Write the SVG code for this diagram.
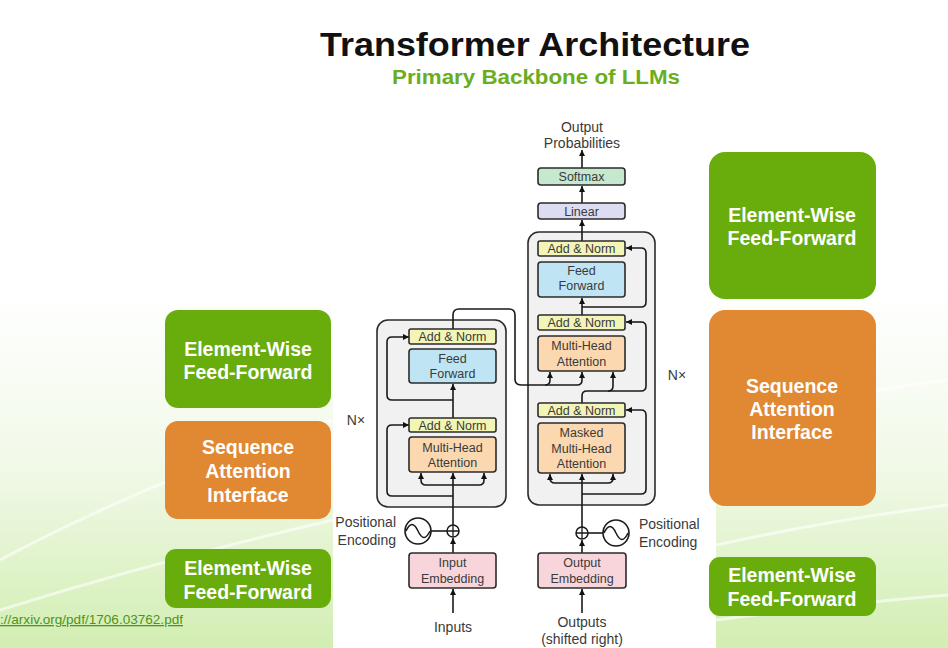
<svg xmlns="http://www.w3.org/2000/svg" width="948" height="648" viewBox="0 0 948 648">
<defs>
<linearGradient id="bg" x1="0" y1="0" x2="0" y2="1">
<stop offset="0" stop-color="#ffffff"/>
<stop offset="0.45" stop-color="#ffffff"/>
<stop offset="0.72" stop-color="#f1f9e8"/>
<stop offset="1" stop-color="#d2eeb2"/>
</linearGradient>
<marker id="ah" viewBox="0 0 6 6" refX="6" refY="3" markerWidth="6" markerHeight="6" markerUnits="userSpaceOnUse" orient="auto">
<path d="M0,0 L6,3 L0,6 z" fill="#111"/>
</marker>
<style>
.side{font-family:"Liberation Sans",Arial,sans-serif;font-weight:bold;font-size:19.5px;fill:#ffffff;text-anchor:middle}
.lbl{font-family:"Liberation Sans",Arial,sans-serif;font-size:12.5px;fill:#3a3a3a;text-anchor:middle}
.cap{font-family:"Liberation Sans",Arial,sans-serif;font-size:14px;fill:#3a3a3a}
.box{stroke:#2b2b2b;stroke-width:1.6}
.an{fill:#f2f5b6}
.ff{fill:#bfe5f5}
.att{fill:#fbd8b0}
.emb{fill:#f8d5da}
.cont{fill:#f1f1f1;stroke:#2b2b2b;stroke-width:1.6}
.wire{fill:none;stroke:#1a1a1a;stroke-width:1.6}
.arr{fill:none;stroke:#1a1a1a;stroke-width:1.6;marker-end:url(#ah)}
.green{fill:#69ad0c}
.orange{fill:#e18832}
</style>
</defs>

<rect width="948" height="648" fill="url(#bg)"/>
<g fill="none" stroke="#ffffff" stroke-opacity="0.6" stroke-width="3">
<path d="M0,560 Q150,480 333,420"/>
<path d="M0,610 Q160,560 333,520"/>
<path d="M716,420 Q830,395 948,380"/>
<path d="M716,545 Q830,520 948,505"/>
<path d="M716,620 Q830,605 948,595"/>
</g>
<rect x="333" y="0" width="383" height="648" fill="#ffffff"/>

<g id="title">
<text x="535" y="56" text-anchor="middle" font-family="'Liberation Sans',Arial,sans-serif" font-weight="bold" font-size="34" fill="#111" textLength="430" lengthAdjust="spacingAndGlyphs">Transformer Architecture</text>
<text x="536" y="84" text-anchor="middle" font-family="'Liberation Sans',Arial,sans-serif" font-weight="bold" font-size="20" fill="#6aae1f" textLength="288" lengthAdjust="spacingAndGlyphs">Primary Backbone of LLMs</text>
</g>

<g id="link">
<text x="0" y="624" font-family="'Liberation Sans',Arial,sans-serif" font-size="13" fill="#4e9420" text-decoration="underline" textLength="183" lengthAdjust="spacingAndGlyphs">://arxiv.org/pdf/1706.03762.pdf</text>
</g>

<!-- side boxes left -->
<g id="left-ff1">
<rect x="165" y="310" width="166" height="98" rx="13" class="green"/>
<text x="248" y="356" class="side">Element-Wise</text>
<text x="248" y="379" class="side">Feed-Forward</text>
</g>
<g id="left-att">
<rect x="165" y="421" width="166" height="98" rx="13" class="orange"/>
<text x="248" y="454" class="side">Sequence</text>
<text x="248" y="478" class="side">Attention</text>
<text x="248" y="502" class="side">Interface</text>
</g>
<g id="left-ff2">
<rect x="165" y="549" width="166" height="59" rx="11" class="green"/>
<text x="248" y="575" class="side">Element-Wise</text>
<text x="248" y="599" class="side">Feed-Forward</text>
</g>

<!-- side boxes right -->
<g id="right-ff1">
<rect x="709" y="152" width="167" height="147" rx="16" class="green"/>
<text x="792" y="222" class="side">Element-Wise</text>
<text x="792" y="245" class="side">Feed-Forward</text>
</g>
<g id="right-att">
<rect x="709" y="310" width="167" height="196" rx="16" class="orange"/>
<text x="792" y="393" class="side">Sequence</text>
<text x="792" y="416" class="side">Attention</text>
<text x="792" y="439" class="side">Interface</text>
</g>
<g id="right-ff2">
<rect x="709" y="557" width="167" height="59" rx="11" class="green"/>
<text x="792" y="582" class="side">Element-Wise</text>
<text x="792" y="606" class="side">Feed-Forward</text>
</g>

<!-- containers -->
<g id="encoder-stack">
<rect x="377" y="320" width="129" height="187" rx="11" class="cont"/>
<text x="356" y="425" class="cap" text-anchor="middle">N×</text>
</g>
<g id="decoder-stack">
<rect x="528" y="232" width="127" height="273" rx="11" class="cont"/>
<text x="677" y="380" class="cap" text-anchor="middle">N×</text>
</g>

<!-- connectors -->
<g id="connectors">
<!-- encoder -->
<path class="arr" d="M453,613 V589"/>
<path class="arr" d="M453,553 V538"/>
<path class="wire" d="M431,531 H447"/>
<path class="arr" d="M453,525 V473"/>
<path class="arr" d="M453,485 H426 Q421,485 421,480 V473"/>
<path class="arr" d="M453,485 H479 Q484,485 484,480 V473"/>
<path class="arr" d="M453,496 H392 Q387,496 387,491 V430 Q387,425 392,425 H409"/>
<path class="arr" d="M453,418 V384"/>
<path class="arr" d="M453,400 H392 Q387,400 387,395 V342 Q387,337 392,337 H409"/>
<path class="arr" d="M453,329 V315 Q453,309 459,309 H509 Q515,309 515,315 V379 Q515,385 521,385 H545 Q550,385 550,380 V372"/>
<path class="arr" d="M545,385 H577 Q582,385 582,380 V372"/>
<!-- decoder -->
<path class="arr" d="M582,613 V589"/>
<path class="arr" d="M582,553 V540"/>
<path class="wire" d="M603,533 H588"/>
<path class="arr" d="M582,527 V474"/>
<path class="arr" d="M582,483 H555 Q550,483 550,478 V474"/>
<path class="arr" d="M582,483 H608 Q613,483 613,478 V474"/>
<path class="arr" d="M582,494 H641 Q646,494 646,489 V415 Q646,410 641,410 H626"/>
<path class="wire" d="M582,403 V396 Q582,391 587,391 H641 Q646,391 646,386 V327 Q646,322 641,322"/>
<path class="arr" d="M641,322 H626"/>
<path class="arr" d="M608,391 Q613,391 613,386 V372"/>
<path class="arr" d="M582,315 V298"/>
<path class="arr" d="M582,307 H641 Q646,307 646,302 V253 Q646,248 641,248 H626"/>
<path class="arr" d="M582,241 V220"/>
<path class="arr" d="M582,203 V186"/>
<path class="arr" d="M582,168 V150"/>
</g>

<!-- encoder nodes -->
<g id="enc-addnorm2">
<rect x="409" y="329" width="87" height="15" rx="2" class="box an"/>
<text x="452.5" y="341" class="lbl">Add &amp; Norm</text>
</g>
<g id="enc-ff">
<rect x="409" y="349" width="87" height="34" rx="3" class="box ff"/>
<text x="452.5" y="362.5" class="lbl">Feed</text>
<text x="452.5" y="377.5" class="lbl">Forward</text>
</g>
<g id="enc-addnorm1">
<rect x="409" y="418" width="87" height="14" rx="2" class="box an"/>
<text x="452.5" y="429.5" class="lbl">Add &amp; Norm</text>
</g>
<g id="enc-mha">
<rect x="409" y="437" width="87" height="35" rx="3" class="box att"/>
<text x="452.5" y="451.5" class="lbl">Multi-Head</text>
<text x="452.5" y="466.5" class="lbl">Attention</text>
</g>
<g id="enc-posenc">
<circle cx="453" cy="531" r="6" fill="#fff" stroke="#1a1a1a" stroke-width="1.5"/>
<path d="M447,531 H459 M453,525 V537" stroke="#1a1a1a" stroke-width="1.3"/>
<circle cx="418" cy="531" r="13" fill="#fff" stroke="#1a1a1a" stroke-width="1.6"/>
<path d="M406,531 Q412,518 418,531 Q424,544 430,531" fill="none" stroke="#1a1a1a" stroke-width="1.5"/>
<text x="396" y="527" class="cap" text-anchor="end">Positional</text>
<text x="396" y="545" class="cap" text-anchor="end">Encoding</text>
</g>
<g id="enc-emb">
<rect x="409" y="553" width="87" height="35" rx="3" class="box emb"/>
<text x="452.5" y="566.5" class="lbl">Input</text>
<text x="452.5" y="582.5" class="lbl">Embedding</text>
</g>
<g id="inputs">
<text x="453" y="632" class="cap" text-anchor="middle">Inputs</text>
</g>

<!-- decoder nodes -->
<g id="out-prob">
<text x="582" y="132" class="cap" text-anchor="middle">Output</text>
<text x="582" y="148" class="cap" text-anchor="middle">Probabilities</text>
</g>
<g id="softmax">
<rect x="538" y="168" width="87" height="17" rx="3" class="box" fill="#c6e8cf"/>
<text x="581.5" y="181" class="lbl">Softmax</text>
</g>
<g id="linear">
<rect x="538" y="203" width="87" height="16" rx="3" class="box" fill="#dcdcf3"/>
<text x="581.5" y="215.5" class="lbl">Linear</text>
</g>
<g id="dec-addnorm3">
<rect x="538" y="241" width="87" height="15" rx="2" class="box an"/>
<text x="581.5" y="253" class="lbl">Add &amp; Norm</text>
</g>
<g id="dec-ff">
<rect x="538" y="262" width="87" height="35" rx="3" class="box ff"/>
<text x="581.5" y="274.5" class="lbl">Feed</text>
<text x="581.5" y="289.5" class="lbl">Forward</text>
</g>
<g id="dec-addnorm2">
<rect x="538" y="315" width="87" height="15" rx="2" class="box an"/>
<text x="581.5" y="327" class="lbl">Add &amp; Norm</text>
</g>
<g id="dec-mha">
<rect x="538" y="336" width="87" height="35" rx="3" class="box att"/>
<text x="581.5" y="349.5" class="lbl">Multi-Head</text>
<text x="581.5" y="365.5" class="lbl">Attention</text>
</g>
<g id="dec-addnorm1">
<rect x="538" y="403" width="87" height="14" rx="2" class="box an"/>
<text x="581.5" y="414.5" class="lbl">Add &amp; Norm</text>
</g>
<g id="dec-mmha">
<rect x="538" y="423" width="87" height="50" rx="3" class="box att"/>
<text x="581.5" y="436.5" class="lbl">Masked</text>
<text x="581.5" y="452.5" class="lbl">Multi-Head</text>
<text x="581.5" y="467.5" class="lbl">Attention</text>
</g>
<g id="dec-posenc">
<circle cx="582" cy="533" r="6" fill="#fff" stroke="#1a1a1a" stroke-width="1.5"/>
<path d="M576,533 H588 M582,527 V539" stroke="#1a1a1a" stroke-width="1.3"/>
<circle cx="616" cy="533" r="13" fill="#fff" stroke="#1a1a1a" stroke-width="1.6"/>
<path d="M604,533 Q610,520 616,533 Q622,546 628,533" fill="none" stroke="#1a1a1a" stroke-width="1.5"/>
<text x="639" y="529" class="cap">Positional</text>
<text x="639" y="547" class="cap">Encoding</text>
</g>
<g id="dec-emb">
<rect x="538" y="553" width="88" height="35" rx="3" class="box emb"/>
<text x="582" y="566.5" class="lbl">Output</text>
<text x="582" y="582.5" class="lbl">Embedding</text>
</g>
<g id="outputs">
<text x="582" y="627" class="cap" text-anchor="middle">Outputs</text>
<text x="582" y="644" class="cap" text-anchor="middle">(shifted right)</text>
</g>
</svg>
